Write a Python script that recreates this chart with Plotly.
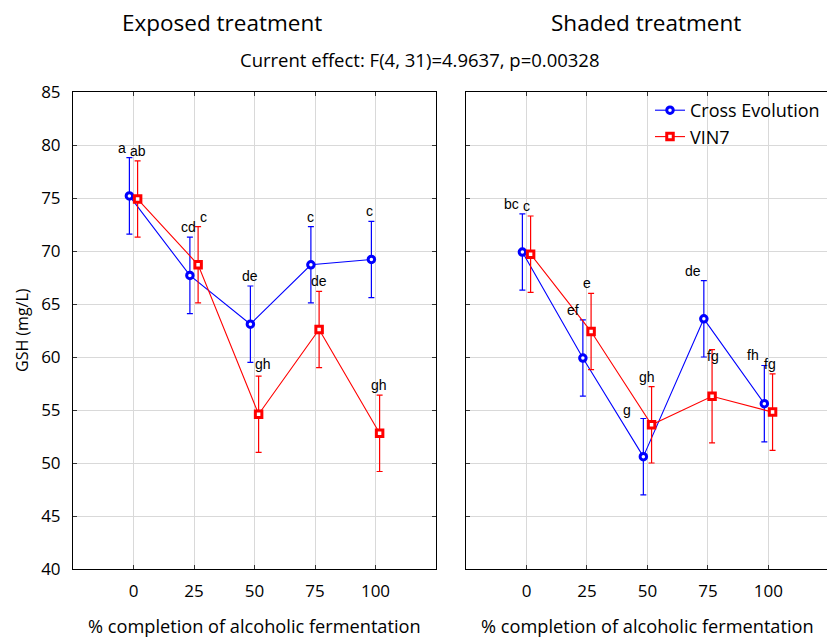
import plotly.graph_objects as go

# Sampling points (% completion of alcoholic fermentation)
pct = [0, 25, 50, 75, 100]

# GSH means (mg/L) and confidence half-widths
exposed_cross = [75.2, 67.7, 63.1, 68.7, 69.2]
exposed_cross_ci = [3.6, 3.6, 3.6, 3.6, 3.6]
exposed_vin7 = [74.9, 68.7, 54.6, 62.6, 52.8]
exposed_vin7_ci = [3.6, 3.6, 3.6, 3.6, 3.6]

shaded_cross = [69.9, 59.9, 50.6, 63.6, 55.6]
shaded_cross_ci = [3.6, 3.6, 3.6, 3.6, 3.6]
shaded_vin7 = [69.7, 62.4, 53.6, 56.3, 54.8]
shaded_vin7_ci = [3.6, 3.6, 3.6, 4.4, 3.6]

# Post-hoc grouping letters
exposed_cross_letters = ["a", "cd", "de", "c", "c"]
exposed_vin7_letters = ["ab", "c", "gh", "de", "gh"]
shaded_cross_letters = ["bc", "ef", "g", "de", "fh"]
shaded_vin7_letters = ["c", "e", "gh", "fg", "fg"]

y_ticks = [40, 45, 50, 55, 60, 65, 70, 75, 80, 85]

W, H = 827, 637
BLUE = "#0000ff"
RED = "#ff0000"
FONT = "Open Sans"
DODGE = 1.7  # horizontal separation of the two cultivars around each category

# letter label nudges in px (dx, dy)
exposed_cross_nudge = [(-7, 0), (-1, 0), (0, 0), (0, 0), (-2, 0)]
exposed_vin7_nudge = [(0, 0), (5, 0), (4, 2), (0, 0), (-1, 0)]
shaded_cross_nudge = [(-11, 0), (-10, 0), (-16, -2), (-11, 0), (-11, 0)]
shaded_vin7_nudge = [(-4, 0), (-4, 0), (-5, 0), (1, -16), (-3, 0)]


def px_x(px):
    return px / W


def px_y(py):
    return 1 - py / H


fig = go.Figure()


def add_series(values, ci, name, color, symbol, dx, xa, ya, show):
    fig.add_trace(go.Scatter(
        x=[p + dx for p in pct], y=values,
        mode="lines+markers", name=name, showlegend=show,
        xaxis=xa, yaxis=ya,
        line=dict(color=color, width=1.1),
        marker=dict(symbol=symbol, size=6.5, color="white",
                    line=dict(color=color, width=3)),
        error_y=dict(type="data", array=ci, visible=True,
                     color=color, thickness=1.2, width=3),
    ))


add_series(exposed_cross, exposed_cross_ci, "Cross Evolution", BLUE, "circle", -DODGE, "x", "y", True)
add_series(exposed_vin7, exposed_vin7_ci, "VIN7", RED, "square", DODGE, "x", "y", True)
add_series(shaded_cross, shaded_cross_ci, "Cross Evolution", BLUE, "circle", -DODGE, "x2", "y2", False)
add_series(shaded_vin7, shaded_vin7_ci, "VIN7", RED, "square", DODGE, "x2", "y2", False)

annotations = []


def add_letters(values, ci, letters, nudges, dx, xa, ya):
    for p, v, e, t, (nx, ny) in zip(pct, values, ci, letters, nudges):
        annotations.append(dict(
            x=p + dx, y=v + e, xref=xa, yref=ya, text=t, showarrow=False,
            xanchor="center", yanchor="bottom", xshift=nx, yshift=ny,
            font=dict(family="Liberation Sans", size=14, color="black"),
        ))


add_letters(exposed_cross, exposed_cross_ci, exposed_cross_letters, exposed_cross_nudge, -DODGE, "x", "y")
add_letters(exposed_vin7, exposed_vin7_ci, exposed_vin7_letters, exposed_vin7_nudge, DODGE, "x", "y")
add_letters(shaded_cross, shaded_cross_ci, shaded_cross_letters, shaded_cross_nudge, -DODGE, "x2", "y2")
add_letters(shaded_vin7, shaded_vin7_ci, shaded_vin7_letters, shaded_vin7_nudge, DODGE, "x2", "y2")

# panel titles, effect statement and axis titles
text_items = [
    ("Exposed treatment", 222, 22, 22.5, 0),
    ("Shaded treatment", 646, 22, 22.5, 0),
    ("Current effect: F(4, 31)=4.9637, p=0.00328", 420, 59, 18.5, 0),
    ("% completion of alcoholic fermentation", 255, 626, 18.2, 0),
    ("% completion of alcoholic fermentation", 647, 626, 18.2, 0),
    ("GSH (mg/L)", 22, 330, 16, -90),
]
for txt, cx, cy, size, ang in text_items:
    annotations.append(dict(
        x=px_x(cx), y=px_y(cy), xref="paper", yref="paper", text=txt,
        showarrow=False, xanchor="center", yanchor="middle", textangle=ang,
        font=dict(family=FONT, size=size, color="black"),
    ))

axis_common = dict(
    showline=True, linecolor="black", linewidth=1,
    ticks="inside", ticklen=4, tickcolor="#333333",
    showgrid=True, gridcolor="#d9d9d9", gridwidth=1, zeroline=False,
    automargin=False,
    tickfont=dict(family=FONT, size=17, color="black"),
)

fig.update_layout(
    width=W, height=H,
    margin=dict(l=0, r=0, t=0, b=0, autoexpand=False),
    paper_bgcolor="white", plot_bgcolor="white",
    xaxis=dict(domain=[px_x(73), px_x(436)], range=[-25, 125], mirror="ticks",
               ticklabelstandoff=7,
               tickvals=pct, ticktext=[str(p) for p in pct], anchor="y", **axis_common),
    yaxis=dict(domain=[px_y(569), px_y(92)], range=[40, 85], mirror="ticks",
               ticklabelstandoff=8,
               tickvals=y_ticks, anchor="x", **axis_common),
    xaxis2=dict(domain=[px_x(466), 1.0], range=[-25, 124.2], mirror="ticks",
                ticklabelstandoff=7,
                tickvals=pct, ticktext=[str(p) for p in pct], anchor="y2", **axis_common),
    yaxis2=dict(domain=[px_y(569), px_y(92)], range=[40, 85], mirror=False,
                tickvals=y_ticks, showticklabels=False, anchor="x2", **axis_common),
    legend=dict(x=px_x(650), y=px_y(92), xanchor="left", yanchor="top",
                bgcolor="rgba(255,255,255,0)", borderwidth=0,
                font=dict(family=FONT, size=18, color="black"),
                tracegroupgap=0, itemwidth=30),
    annotations=annotations,
    showlegend=True,
)

fig.write_html("out.html")
